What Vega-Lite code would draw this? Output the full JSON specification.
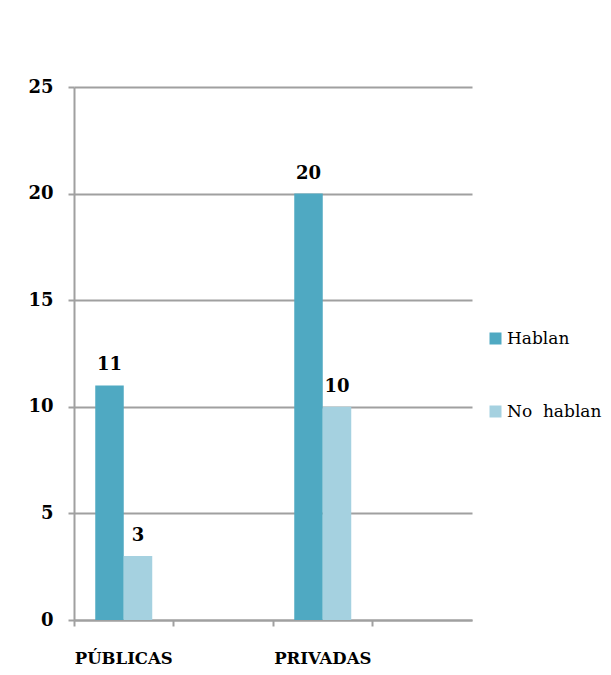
{
  "$schema": "https://vega.github.io/schema/vega-lite/v6.json",
  "autosize": "none",
  "padding": {"left": 74, "top": 87, "right": 139, "bottom": 55},
  "width": 398,
  "height": 533,
  "background": "white",
  "data": {
    "values": [
      {"escuela": "PÚBLICAS", "grupo": "Hablan", "valor": 11},
      {"escuela": "PÚBLICAS", "grupo": "No hablan", "valor": 3},
      {"escuela": "PRIVADAS", "grupo": "Hablan", "valor": 20},
      {"escuela": "PRIVADAS", "grupo": "No hablan", "valor": 10}
    ]
  },
  "encoding": {
    "x": {
      "field": "escuela",
      "type": "nominal",
      "scale": {"domain": ["PÚBLICAS", " ", "PRIVADAS", "  "], "paddingInner": 0, "paddingOuter": 0},
      "axis": {
        "title": null,
        "bandPosition": 0,
        "labelAngle": 0,
        "labelFont": "DejaVu Serif",
        "labelFontWeight": "bold",
        "labelFontSize": 16.5,
        "labelColor": "black",
        "labelPadding": 24,
        "domainColor": "#A0A0A0",
        "domainWidth": 2,
        "tickColor": "#A0A0A0",
        "tickWidth": 2,
        "tickSize": 6
      }
    },
    "xOffset": {
      "field": "grupo",
      "type": "nominal",
      "scale": {"domain": ["Hablan", "No hablan"], "paddingInner": 0, "paddingOuter": 0.746}
    },
    "y": {
      "field": "valor",
      "type": "quantitative",
      "scale": {"domain": [0, 25], "nice": false},
      "axis": {
        "title": null,
        "values": [0, 5, 10, 15, 20, 25],
        "grid": true,
        "gridColor": "#A0A0A0",
        "gridWidth": 2,
        "domainColor": "#A0A0A0",
        "domainWidth": 2,
        "tickColor": "#A0A0A0",
        "tickWidth": 2,
        "tickSize": 6,
        "labelFont": "DejaVu Serif",
        "labelFontWeight": "bold",
        "labelFontSize": 18,
        "labelColor": "black",
        "labelPadding": 15
      }
    }
  },
  "layer": [
    {
      "mark": {"type": "bar"},
      "encoding": {
        "color": {
          "field": "grupo",
          "type": "nominal",
          "scale": {"domain": ["Hablan", "No hablan"], "range": ["#4FA9C2", "#A5D1E0"]},
          "legend": {
            "title": null,
            "orient": "none",
            "legendX": 413,
            "legendY": 243,
            "symbolType": "square",
            "symbolSize": 144,
            "symbolStrokeWidth": 0,
            "labelFont": "DejaVu Serif",
            "labelFontSize": 17,
            "labelColor": "black",
            "labelOffset": 3,
            "rowPadding": 55,
            "labelExpr": "datum.label == 'No hablan' ? 'No\u00a0\u00a0hablan' : datum.label"
          }
        }
      }
    },
    {
      "mark": {
        "type": "text",
        "baseline": "bottom",
        "dy": -11,
        "font": "DejaVu Serif",
        "fontWeight": "bold",
        "fontSize": 18,
        "color": "black"
      },
      "encoding": {
        "text": {"field": "valor", "type": "quantitative"}
      }
    }
  ],
  "config": {
    "view": {"stroke": null}
  }
}
